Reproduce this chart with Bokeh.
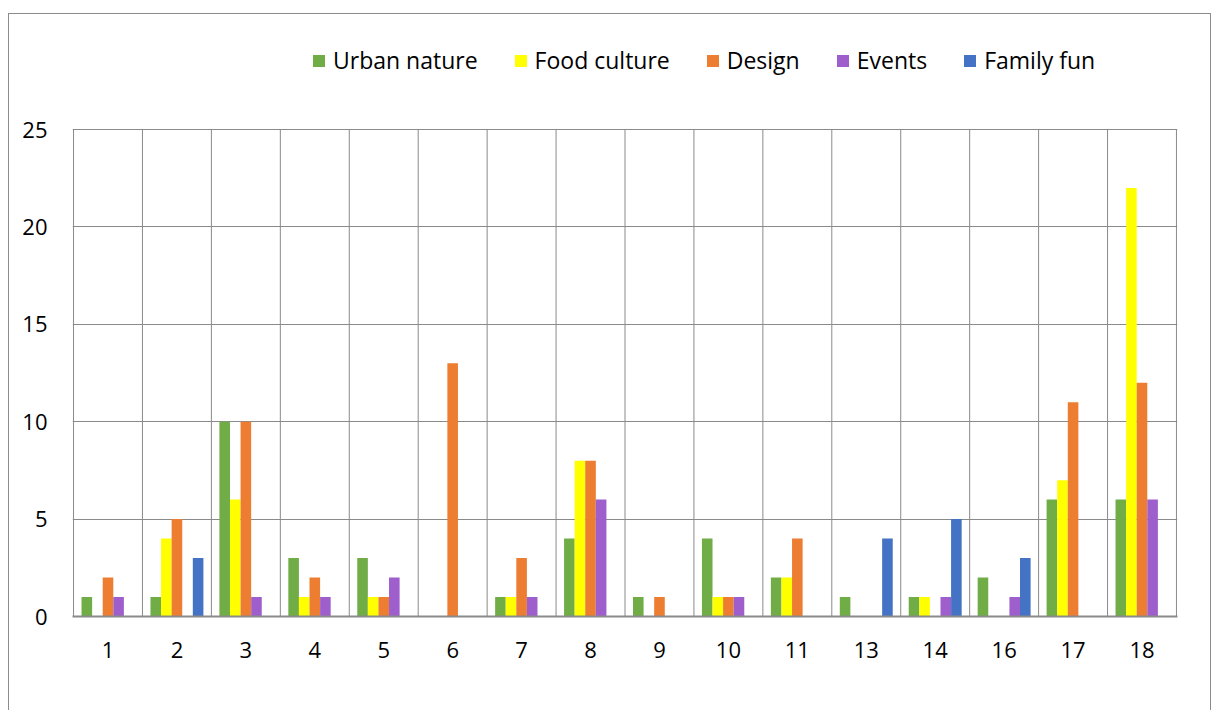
from bokeh.plotting import figure
from bokeh.models import ColumnDataSource, FixedTicker, Legend, LegendItem, Range1d
from bokeh.embed import file_html
from bokeh.resources import INLINE

categories = ["1", "2", "3", "4", "5", "6", "7", "8", "9", "10", "11", "13", "14", "16", "17", "18"]
series_names = ["Urban nature", "Food culture", "Design", "Events", "Family fun"]
urban_nature = [1, 1, 10, 3, 3, 0, 1, 4, 1, 4, 2, 1, 1, 2, 6, 6]
food_culture = [0, 4, 6, 1, 1, 0, 1, 8, 0, 1, 2, 0, 1, 0, 7, 22]
design = [2, 5, 10, 2, 1, 13, 3, 8, 1, 1, 4, 0, 0, 0, 11, 12]
events = [1, 0, 1, 1, 2, 0, 1, 6, 0, 1, 0, 0, 1, 1, 0, 6]
family_fun = [0, 3, 0, 0, 0, 0, 0, 0, 0, 0, 0, 4, 5, 3, 0, 0]
colors = ["#70AD47", "#FFFF00", "#ED7D31", "#9E5FCC", "#4472C4"]
y_ticks = [0, 5, 10, 15, 20, 25]

all_series = [urban_nature, food_culture, design, events, family_fun]
FONT = "Open Sans"
GRID = "#8a8a8a"

n = len(categories)
y_max = y_ticks[-1]
plot_top_px, axis_top_px, axis_bottom_px = 30, 129, 616
y_end = y_max * (axis_bottom_px - plot_top_px) / (axis_bottom_px - axis_top_px)

p = figure(width=1203, height=697, output_backend="svg", toolbar_location=None,
           x_range=Range1d(-0.015, n + 0.015), y_range=Range1d(0, y_end),
           min_border_left=63, min_border_right=35, min_border_top=16, min_border_bottom=95)
p.styles = {"margin-top": "13px", "margin-left": "8px",
            "border": "1px solid #8c8c8c", "border-bottom": "none"}
p.outline_line_color = None

# vertical category separators, only up to the top of the value axis
p.segment(x0=list(range(n + 1)), x1=list(range(n + 1)), y0=0, y1=y_max,
          line_color=GRID, line_width=1)

bw = 0.1536
items = []
for k, (name, vals, col) in enumerate(zip(series_names, all_series, colors)):
    xs = [i + 0.5 + (k - 2) * bw for i in range(n)]
    src = ColumnDataSource(dict(x=xs, top=vals))
    r = p.vbar(x="x", top="top", bottom=0, width=bw, source=src, fill_color=col, line_color=None)
    items.append(LegendItem(label=name, renderers=[r]))

legend = Legend(items=items, orientation="horizontal", location=(239, 540),
                padding=0, margin=0, spacing=35, label_standoff=7,
                glyph_width=15, glyph_height=15,
                label_text_font=FONT, label_text_font_size="23px", label_text_color="black",
                border_line_color=None, background_fill_alpha=0)
p.add_layout(legend, "center")

p.xgrid.grid_line_color = None
p.ygrid.ticker = FixedTicker(ticks=y_ticks)
p.ygrid.grid_line_color = GRID
p.ygrid.grid_line_width = 1

p.xaxis.ticker = FixedTicker(ticks=[i + 0.5 for i in range(n)])
p.xaxis.major_label_overrides = {i + 0.5: c for i, c in enumerate(categories)}
p.xaxis.axis_line_color = GRID
p.xaxis.axis_line_width = 2
p.xaxis.major_tick_line_color = None
p.xaxis.minor_tick_line_color = None
p.xaxis.major_label_standoff = 19
p.xaxis.major_label_text_font = FONT
p.xaxis.major_label_text_font_size = "22px"
p.xaxis.major_label_text_color = "black"

p.yaxis.ticker = FixedTicker(ticks=y_ticks)
p.yaxis.axis_line_color = None
p.yaxis.major_tick_line_color = None
p.yaxis.minor_tick_line_color = None
p.yaxis.major_label_standoff = 19
p.yaxis.major_label_text_font = FONT
p.yaxis.major_label_text_font_size = "22px"
p.yaxis.major_label_text_color = "black"

open("out.html", "w").write(file_html(p, INLINE))
